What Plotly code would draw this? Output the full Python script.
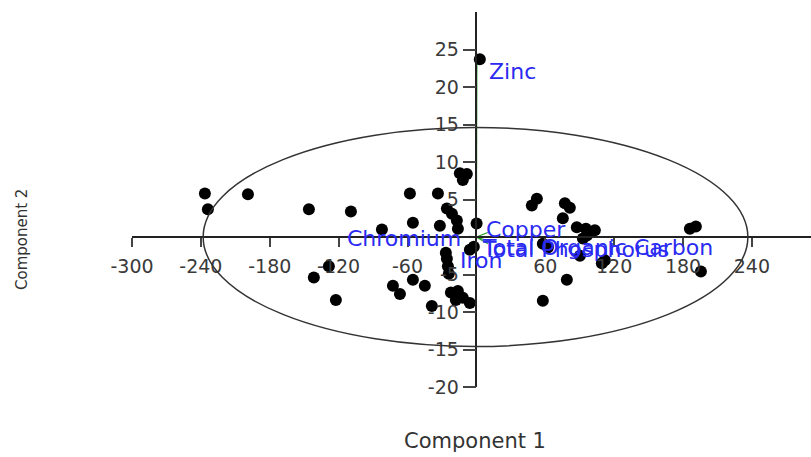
import plotly.graph_objects as go

# ---- data (scores) ----
score_x = [-236.5, -233.9, -199.0, -145.9, -109.3, -82.3, -141.6, -128.5, -122.4,
           -57.9, -33.5, -14.4, -11.8, -8.3, -25.7, -21.3, -17.0, -55.3, -31.8, -16.1, 0.2,
           -26.6, -25.7, -24.8, -24.0, -5.7, -2.2, -72.7, -66.6, -55.3, -44.9, -38.8,
           -22.2, -16.1, -11.8, -5.7, -17.9,
           52.7, 48.3, 77.1, 81.4, 75.3, 87.5, 95.4, 103.2, 96.3, 92.8, 57.9, 62.3,
           90.2, 109.3, 111.9, 78.8, 57.9, 186.0, 191.2, 195.6, 3.0]
score_y = [5.8, 3.7, 5.7, 3.7, 3.4, 1.0, -5.4, -3.9, -8.4,
           5.8, 5.8, 8.5, 7.6, 8.4, 3.8, 3.1, 2.2, 1.9, 1.5, 1.1, 1.8,
           -2.1, -2.9, -3.9, -4.9, -1.7, -1.3, -6.5, -7.6, -5.7, -6.5, -9.2,
           -7.4, -7.2, -8.1, -8.8, -8.4,
           5.1, 4.2, 4.5, 3.9, 2.5, 1.3, 1.1, 0.9, 0.2, -0.2, -0.9, -1.4,
           -2.5, -3.5, -3.1, -5.7, -8.5, 1.1, 1.4, -4.6, 23.7]

# ---- loadings (variable vectors) ----
var_names = ["Zinc", "Copper", "Total Organic Carbon", "Total Phosphorus", "Iron", "Chromium"]
load_x = [0.4, 10.0, 12.0, 10.0, -2.0, -6.0]
load_y = [23.3, 0.6, -0.6, -0.9, -1.6, 0.1]
label_x = [9.1, 7.0, 3.0, 3.0, -16.1, -11.8]
label_y = [22.1, 1.0, -1.4, -1.7, -3.1, -0.2]
label_anchor = ["left", "left", "left", "left", "left", "right"]

# ---- ellipse ----
ell_x0, ell_x1, ell_y0, ell_y1 = -238.0, 236.5, -14.6, 14.6

x_ticks = [-300, -240, -180, -120, -60, 60, 120, 180, 240]
y_ticks = [-20, -15, -10, -5, 5, 10, 15, 20, 25]
x_range = [-300, 291.5]
y_range = [-20, 30]

fig = go.Figure()

for lx, ly in zip(load_x, load_y):
    fig.add_trace(go.Scatter(x=[0, lx], y=[0, ly], mode="lines",
                             line=dict(color="#1f9a1f", width=1.2),
                             hoverinfo="skip", showlegend=False))

fig.add_trace(go.Scatter(x=score_x, y=score_y, mode="markers",
                         marker=dict(color="black", size=12, line=dict(width=0)),
                         showlegend=False))

fig.add_shape(type="circle", xref="x", yref="y", x0=ell_x0, x1=ell_x1, y0=ell_y0, y1=ell_y1,
              line=dict(color="#333333", width=1.5), layer="above")

for name, tx, ty, anc in zip(var_names, label_x, label_y, label_anchor):
    fig.add_annotation(x=tx, y=ty, xref="x", yref="y", text=name, showarrow=False,
                       xanchor=anc, yanchor="middle",
                       font=dict(family="DejaVu Sans", size=22, color="#2a2af2"))

tick_font = dict(family="DejaVu Sans", size=19, color="#3a3a3a")
fig.update_layout(
    width=811, height=457,
    margin=dict(l=132, r=0, t=12, b=70),
    paper_bgcolor="white", plot_bgcolor="white",
    xaxis=dict(range=x_range, anchor="free",
               position=(0 - y_range[0]) / (y_range[1] - y_range[0]),
               showline=True, linecolor="#222222", linewidth=1.5,
               ticks="outside", ticklen=9, tickwidth=1.5, tickcolor="#444444",
               tickvals=x_ticks, ticktext=[str(v) for v in x_ticks],
               tickfont=tick_font, ticklabelstandoff=3,
               showgrid=False, zeroline=False),
    yaxis=dict(range=y_range, anchor="free",
               position=(0 - x_range[0]) / (x_range[1] - x_range[0]),
               showline=True, linecolor="#222222", linewidth=1.5,
               ticks="outside", ticklen=13, tickwidth=1.5, tickcolor="#444444",
               tickvals=y_ticks, ticktext=[str(v) for v in y_ticks],
               tickfont=tick_font,
               showgrid=False, zeroline=False),
    font=dict(family="DejaVu Sans"),
)

fig.add_annotation(text="Component 1", xref="paper", yref="paper", x=0.505, y=-0.144,
                   showarrow=False, xanchor="center", yanchor="middle",
                   font=dict(family="DejaVu Sans", size=21, color="#333333"))
fig.add_annotation(text="Component 2", xref="paper", yref="paper", x=-0.162, y=0.392,
                   showarrow=False, xanchor="center", yanchor="middle", textangle=-90,
                   font=dict(family="DejaVu Sans", size=15, color="#333333"))

fig.write_html("out.html")
